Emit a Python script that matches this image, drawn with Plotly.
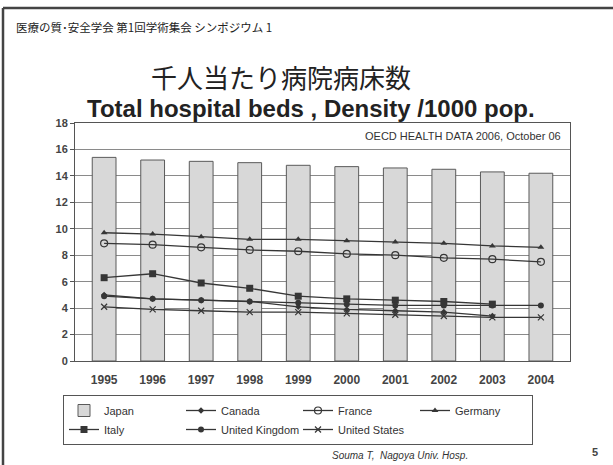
import plotly.graph_objects as go

# Hospital beds per 1000 population, OECD Health Data 2006
years = ["1995", "1996", "1997", "1998", "1999", "2000", "2001", "2002", "2003", "2004"]
japan = [15.4, 15.2, 15.1, 15.0, 14.8, 14.7, 14.6, 14.5, 14.3, 14.2]
canada = [5.0, 4.7, 4.6, 4.5, 4.1, 3.9, 3.8, 3.7, 3.4, None]
france = [8.9, 8.8, 8.6, 8.4, 8.3, 8.1, 8.0, 7.8, 7.7, 7.5]
germany = [9.7, 9.6, 9.4, 9.2, 9.2, 9.1, 9.0, 8.9, 8.7, 8.6]
italy = [6.3, 6.6, 5.9, 5.5, 4.9, 4.7, 4.6, 4.5, 4.3, None]
uk = [4.9, 4.7, 4.6, 4.5, 4.4, 4.3, 4.2, 4.2, 4.2, 4.2]
us = [4.1, 3.9, 3.8, 3.7, 3.7, 3.6, 3.5, 3.4, 3.3, 3.3]
y_ticks = [0, 2, 4, 6, 8, 10, 12, 14, 16, 18]

INK = "#363636"
FONT = "Liberation Sans"
JP = "Noto Sans CJK JP"

W, H = 613, 465
L, R, T, B = 75, 43, 123, 104
PW, PH = W - L - R, H - T - B


def px(x):
    """page pixel x -> paper fraction"""
    return (x - L) / PW


def py(y):
    """page pixel y -> paper fraction"""
    return (H - B - y) / PH


fig = go.Figure()
fig.add_trace(go.Bar(
    x=years, y=japan, name="Japan", width=0.49,
    marker=dict(color="#d8d8d8", line=dict(color="#5a5a5a", width=1)),
))

series = [
    ("Canada", canada, dict(symbol="diamond", size=5)),
    ("France", france, dict(symbol="circle-open", size=7, line=dict(width=1.2))),
    ("Germany", germany, dict(symbol="triangle-up", size=6)),
    ("Italy", italy, dict(symbol="square", size=7)),
    ("United Kingdom", uk, dict(symbol="circle", size=6)),
    ("United States", us, dict(symbol="x-thin", size=6, line=dict(width=1.2, color=INK))),
]
for name, vals, mk in series:
    fig.add_trace(go.Scatter(
        x=years, y=vals, name=name, mode="lines+markers",
        line=dict(color=INK, width=1.3),
        marker=dict(color=INK, **mk),
    ))

fig.update_layout(
    width=W, height=H,
    margin=dict(l=L, r=R, t=T, b=B),
    paper_bgcolor="white", plot_bgcolor="white",
    showlegend=True,
    legend=dict(
        orientation="h", x=px(63), y=py(395), xanchor="left", yanchor="top",
        entrywidth=72, entrywidthmode="pixels", itemwidth=30,
        bordercolor="#555", borderwidth=1, bgcolor="white",
        font=dict(family=FONT, size=11, color="#333"),
        tracegroupgap=0,
    ),
    xaxis=dict(
        type="category", showgrid=False, showline=True, linecolor="#555",
        ticks="", mirror=True, ticklabelstandoff=8,
        tickfont=dict(family=FONT, size=12, color="#444", weight="bold"),
    ),
    yaxis=dict(
        range=[0, 18], tickvals=y_ticks, showgrid=True, gridcolor="#8a8a8a",
        gridwidth=1, showline=True, linecolor="#555", mirror=True,
        ticks="outside", ticklen=4, tickcolor="#555",
        tickfont=dict(family=FONT, size=11, color="#444", weight="bold"),
        zeroline=False,
    ),
    font=dict(family=FONT),
)

# slide texts, positioned in page pixels
texts = [
    ("医療の質･安全学会 第1回学術集会 シンポジウム 1", 14, 27, "left",
     dict(family=JP, size=11.5, color="#222")),
    ("千人当たり病院病床数", 281, 76, "center",
     dict(family=JP, size=26, color="#222")),
    ("<b>Total hospital beds , Density /1000 pop.</b>", 311, 108, "center",
     dict(family=FONT, size=24, color="#222")),
    ("<i>Souma T,  Nagoya Univ. Hosp.</i>", 330, 455, "left",
     dict(family=FONT, size=10, color="#333")),
    ("<b>5</b>", 595, 452, "center",
     dict(family=FONT, size=11, color="#444")),
]
for text, x, y, anchor, font in texts:
    fig.add_annotation(
        text=text, x=px(x), y=py(y), xref="paper", yref="paper",
        xanchor=anchor, yanchor="middle", showarrow=False, font=font,
    )

fig.add_annotation(
    text="OECD HEALTH DATA 2006, October 06", x=px(563), y=17.0,
    xref="paper", yref="y", xanchor="right", yanchor="middle", showarrow=False,
    font=dict(family=FONT, size=11, color="#333"),
)

# slide frame (left and top edges)
fig.add_shape(type="line", xref="paper", yref="paper",
              x0=px(3), x1=px(3), y0=py(8), y1=py(465),
              line=dict(color="#444", width=2.5))
fig.add_shape(type="line", xref="paper", yref="paper",
              x0=px(3), x1=px(613), y0=py(8), y1=py(8),
              line=dict(color="#444", width=2.5))

fig.write_html("out.html")
